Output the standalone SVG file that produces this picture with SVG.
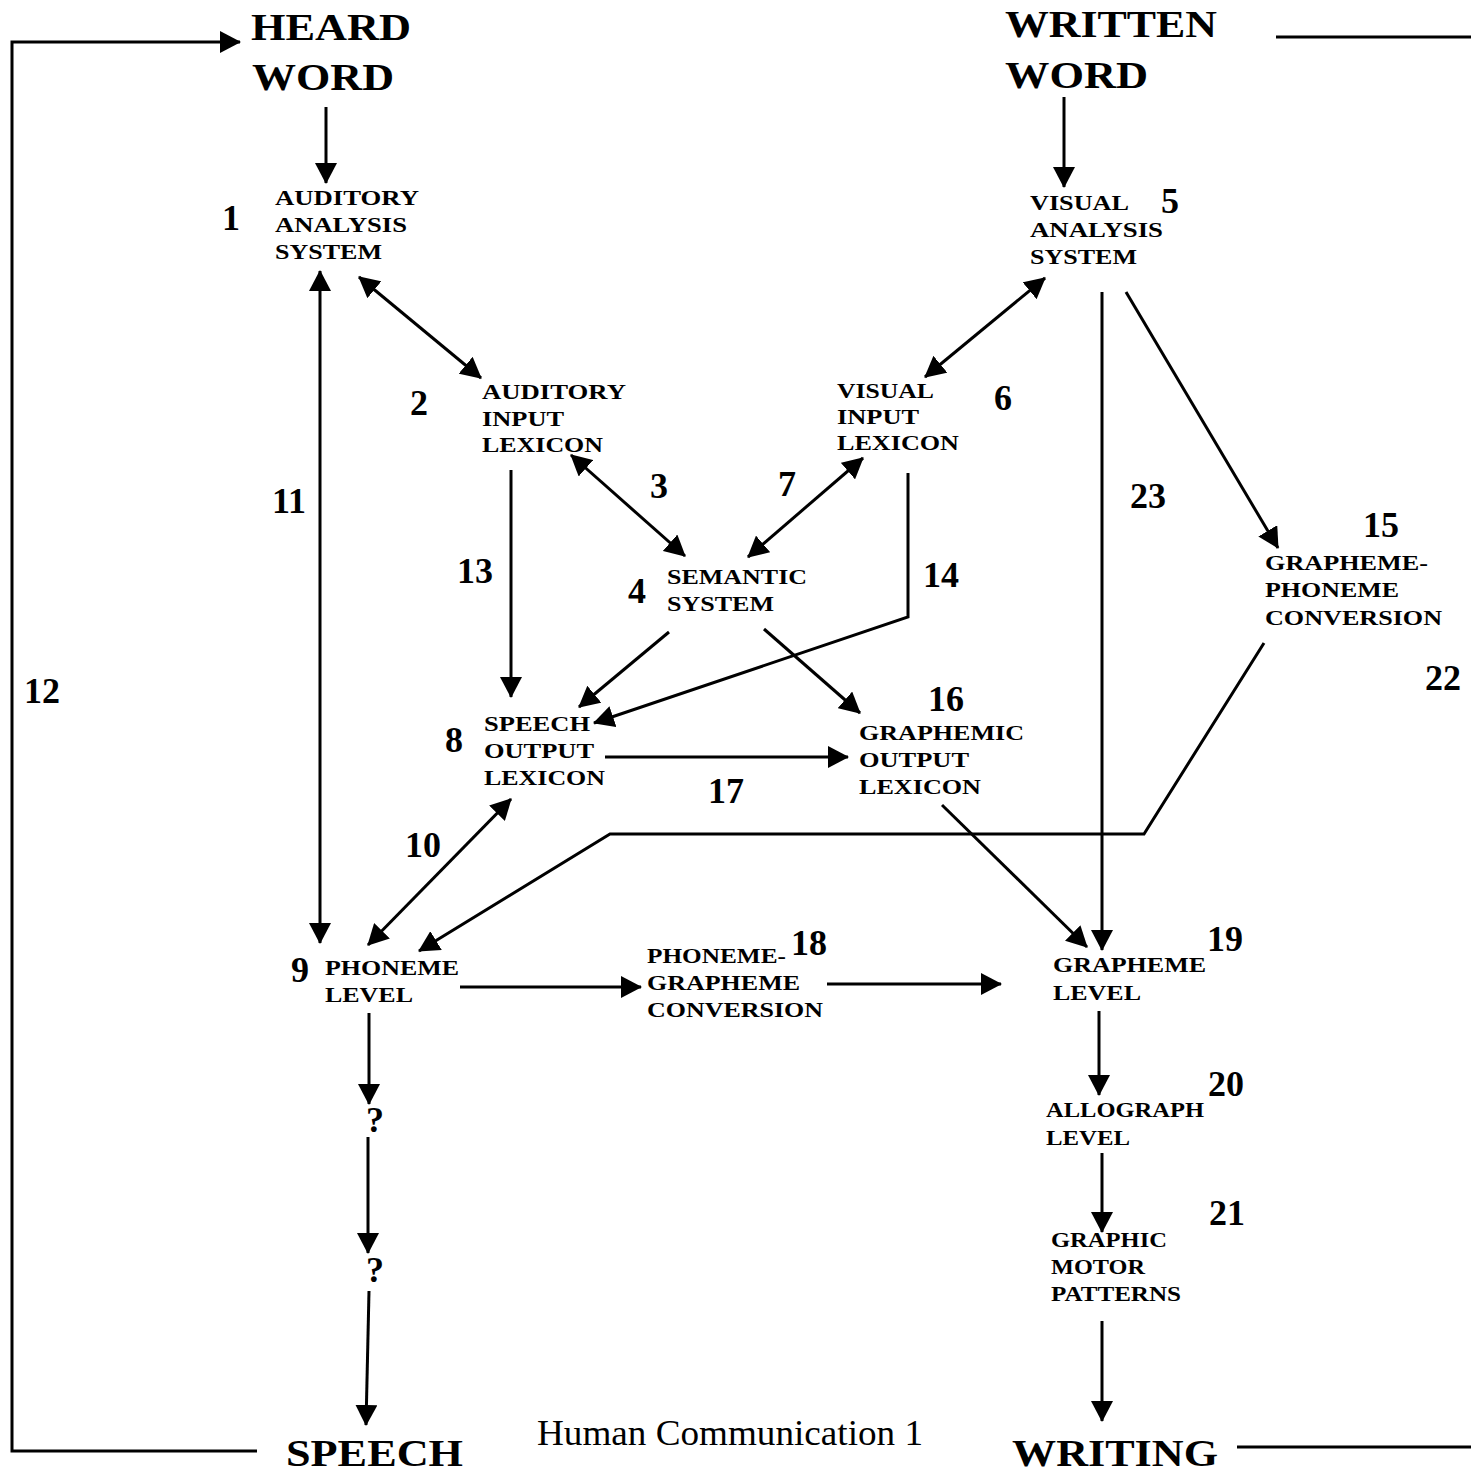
<svg xmlns="http://www.w3.org/2000/svg" width="1471" height="1473" viewBox="0 0 1471 1473">
<style>
text{lengthAdjust:spacingAndGlyphs}
.lbl{font-family:"Liberation Serif","Times New Roman",serif;font-weight:bold;font-size:22px;fill:#000}
.num{font-family:"Liberation Serif","Times New Roman",serif;font-weight:bold;font-size:36px;fill:#000}
.ttl{font-family:"Liberation Serif","Times New Roman",serif;font-weight:bold;font-size:38px;fill:#000}
.cap{font-family:"Liberation Serif","Times New Roman",serif;font-size:36px;fill:#000}
.ln{fill:none;stroke:#000;stroke-width:3}
.a{marker-end:url(#ah)}
.d{marker-start:url(#ah);marker-end:url(#ah)}
</style>
<defs>
<marker id="ah" markerUnits="userSpaceOnUse" markerWidth="22" markerHeight="22" refX="20" refY="11" orient="auto-start-reverse" viewBox="0 0 22 22">
<path d="M0,0 L21,11 L0,22 z" fill="#000"/>
</marker>
</defs>
<rect width="1471" height="1473" fill="#fff"/>

<g id="connectors">
<polyline class="ln a" points="257,1451 12,1451 12,42 240,42"/>
<line class="ln" x1="1276" y1="37" x2="1471" y2="37"/>
<line class="ln" x1="1237" y1="1447" x2="1471" y2="1447"/>
<line class="ln a" x1="326" y1="107" x2="326" y2="183"/>
<line class="ln a" x1="1064" y1="97" x2="1064" y2="187"/>
<line class="ln d" x1="320" y1="271" x2="320" y2="943"/>
<line class="ln d" x1="359" y1="277" x2="481" y2="378"/>
<line class="ln d" x1="571" y1="455" x2="685" y2="556"/>
<line class="ln d" x1="863" y1="458" x2="748" y2="557"/>
<line class="ln d" x1="1045" y1="278" x2="925" y2="377"/>
<line class="ln a" x1="511" y1="470" x2="511" y2="697"/>
<line class="ln a" x1="669" y1="632" x2="579" y2="707"/>
<polyline class="ln a" points="908,473 908,617 594,723"/>
<line class="ln a" x1="764" y1="629" x2="860" y2="713"/>
<line class="ln a" x1="605" y1="757" x2="848" y2="757"/>
<line class="ln d" x1="511" y1="799" x2="368" y2="945"/>
<polyline class="ln a" points="1264,643 1144,834 610,834 419,951"/>
<line class="ln a" x1="1102" y1="292" x2="1102" y2="950"/>
<line class="ln a" x1="1126" y1="292" x2="1278" y2="548"/>
<line class="ln a" x1="942" y1="805" x2="1087" y2="947"/>
<line class="ln a" x1="460" y1="987" x2="641" y2="987"/>
<line class="ln a" x1="827" y1="984" x2="1001" y2="984"/>
<line class="ln a" x1="1099" y1="1011" x2="1099" y2="1095"/>
<line class="ln a" x1="1102" y1="1153" x2="1102" y2="1232"/>
<line class="ln a" x1="1102" y1="1321" x2="1102" y2="1421"/>
<line class="ln a" x1="369" y1="1013" x2="369" y2="1104"/>
<line class="ln a" x1="368" y1="1137" x2="368" y2="1253"/>
<line class="ln a" x1="369" y1="1291" x2="366" y2="1425"/>
</g>

<g id="heard-word"><text class="ttl" x="251" y="40" textLength="160" lengthAdjust="spacingAndGlyphs">HEARD</text><text class="ttl" x="252" y="90" textLength="142" lengthAdjust="spacingAndGlyphs">WORD</text></g>
<g id="written-word"><text class="ttl" x="1005" y="37" textLength="212" lengthAdjust="spacingAndGlyphs">WRITTEN</text><text class="ttl" x="1005" y="88" textLength="143" lengthAdjust="spacingAndGlyphs">WORD</text></g>
<g id="speech"><text class="ttl" x="286" y="1466" textLength="177" lengthAdjust="spacingAndGlyphs">SPEECH</text></g>
<g id="writing"><text class="ttl" x="1012" y="1466" textLength="206" lengthAdjust="spacingAndGlyphs">WRITING</text></g>
<g id="caption"><text class="cap" x="537" y="1445" textLength="386" lengthAdjust="spacingAndGlyphs">Human Communication 1</text></g>

<g id="auditory-analysis"><text class="lbl" x="275" y="205" textLength="144" lengthAdjust="spacingAndGlyphs">AUDITORY</text><text class="lbl" x="275" y="232" textLength="132" lengthAdjust="spacingAndGlyphs">ANALYSIS</text><text class="lbl" x="275" y="259" textLength="107" lengthAdjust="spacingAndGlyphs">SYSTEM</text></g>
<g id="auditory-input"><text class="lbl" x="482" y="399" textLength="144" lengthAdjust="spacingAndGlyphs">AUDITORY</text><text class="lbl" x="482" y="426" textLength="82" lengthAdjust="spacingAndGlyphs">INPUT</text><text class="lbl" x="482" y="452" textLength="121" lengthAdjust="spacingAndGlyphs">LEXICON</text></g>
<g id="visual-analysis"><text class="lbl" x="1030" y="210" textLength="99" lengthAdjust="spacingAndGlyphs">VISUAL</text><text class="lbl" x="1030" y="237" textLength="133" lengthAdjust="spacingAndGlyphs">ANALYSIS</text><text class="lbl" x="1030" y="264" textLength="107" lengthAdjust="spacingAndGlyphs">SYSTEM</text></g>
<g id="visual-input"><text class="lbl" x="837" y="398" textLength="97" lengthAdjust="spacingAndGlyphs">VISUAL</text><text class="lbl" x="837" y="424" textLength="82" lengthAdjust="spacingAndGlyphs">INPUT</text><text class="lbl" x="837" y="450" textLength="122" lengthAdjust="spacingAndGlyphs">LEXICON</text></g>
<g id="semantic"><text class="lbl" x="667" y="584" textLength="140" lengthAdjust="spacingAndGlyphs">SEMANTIC</text><text class="lbl" x="667" y="611" textLength="107" lengthAdjust="spacingAndGlyphs">SYSTEM</text></g>
<g id="speech-output"><text class="lbl" x="484" y="731" textLength="106" lengthAdjust="spacingAndGlyphs">SPEECH</text><text class="lbl" x="484" y="758" textLength="110" lengthAdjust="spacingAndGlyphs">OUTPUT</text><text class="lbl" x="484" y="785" textLength="121" lengthAdjust="spacingAndGlyphs">LEXICON</text></g>
<g id="graphemic-output"><text class="lbl" x="859" y="740" textLength="165" lengthAdjust="spacingAndGlyphs">GRAPHEMIC</text><text class="lbl" x="859" y="767" textLength="110" lengthAdjust="spacingAndGlyphs">OUTPUT</text><text class="lbl" x="859" y="794" textLength="122" lengthAdjust="spacingAndGlyphs">LEXICON</text></g>
<g id="phoneme-level"><text class="lbl" x="325" y="975" textLength="134" lengthAdjust="spacingAndGlyphs">PHONEME</text><text class="lbl" x="325" y="1002" textLength="88" lengthAdjust="spacingAndGlyphs">LEVEL</text></g>
<g id="phoneme-grapheme"><text class="lbl" x="647" y="963" textLength="139" lengthAdjust="spacingAndGlyphs">PHONEME-</text><text class="lbl" x="647" y="990" textLength="153" lengthAdjust="spacingAndGlyphs">GRAPHEME</text><text class="lbl" x="647" y="1017" textLength="176" lengthAdjust="spacingAndGlyphs">CONVERSION</text></g>
<g id="grapheme-phoneme"><text class="lbl" x="1265" y="570" textLength="163" lengthAdjust="spacingAndGlyphs">GRAPHEME-</text><text class="lbl" x="1265" y="597" textLength="134" lengthAdjust="spacingAndGlyphs">PHONEME</text><text class="lbl" x="1265" y="625" textLength="177" lengthAdjust="spacingAndGlyphs">CONVERSION</text></g>
<g id="grapheme-level"><text class="lbl" x="1053" y="972" textLength="153" lengthAdjust="spacingAndGlyphs">GRAPHEME</text><text class="lbl" x="1053" y="1000" textLength="88" lengthAdjust="spacingAndGlyphs">LEVEL</text></g>
<g id="allograph-level"><text class="lbl" x="1046" y="1117" textLength="158" lengthAdjust="spacingAndGlyphs">ALLOGRAPH</text><text class="lbl" x="1046" y="1145" textLength="84" lengthAdjust="spacingAndGlyphs">LEVEL</text></g>
<g id="graphic-motor"><text class="lbl" x="1051" y="1247" textLength="116" lengthAdjust="spacingAndGlyphs">GRAPHIC</text><text class="lbl" x="1051" y="1274" textLength="94" lengthAdjust="spacingAndGlyphs">MOTOR</text><text class="lbl" x="1051" y="1301" textLength="130" lengthAdjust="spacingAndGlyphs">PATTERNS</text></g>
<g id="unknown-1"><text class="num" x="366" y="1132">?</text></g>
<g id="unknown-2"><text class="num" x="366" y="1282">?</text></g>

<g id="numbers">
<text class="num" x="222" y="230">1</text>
<text class="num" x="410" y="415">2</text>
<text class="num" x="650" y="498">3</text>
<text class="num" x="628" y="603">4</text>
<text class="num" x="1161" y="213">5</text>
<text class="num" x="994" y="410">6</text>
<text class="num" x="778" y="496">7</text>
<text class="num" x="445" y="752">8</text>
<text class="num" x="291" y="982">9</text>
<text class="num" x="405" y="857">10</text>
<text class="num" x="272" y="513">11</text>
<text class="num" x="24" y="703">12</text>
<text class="num" x="457" y="583">13</text>
<text class="num" x="923" y="587">14</text>
<text class="num" x="1363" y="537">15</text>
<text class="num" x="928" y="711">16</text>
<text class="num" x="708" y="803">17</text>
<text class="num" x="791" y="955">18</text>
<text class="num" x="1207" y="951">19</text>
<text class="num" x="1208" y="1096">20</text>
<text class="num" x="1209" y="1225">21</text>
<text class="num" x="1425" y="690">22</text>
<text class="num" x="1130" y="508">23</text>
</g>
</svg>
